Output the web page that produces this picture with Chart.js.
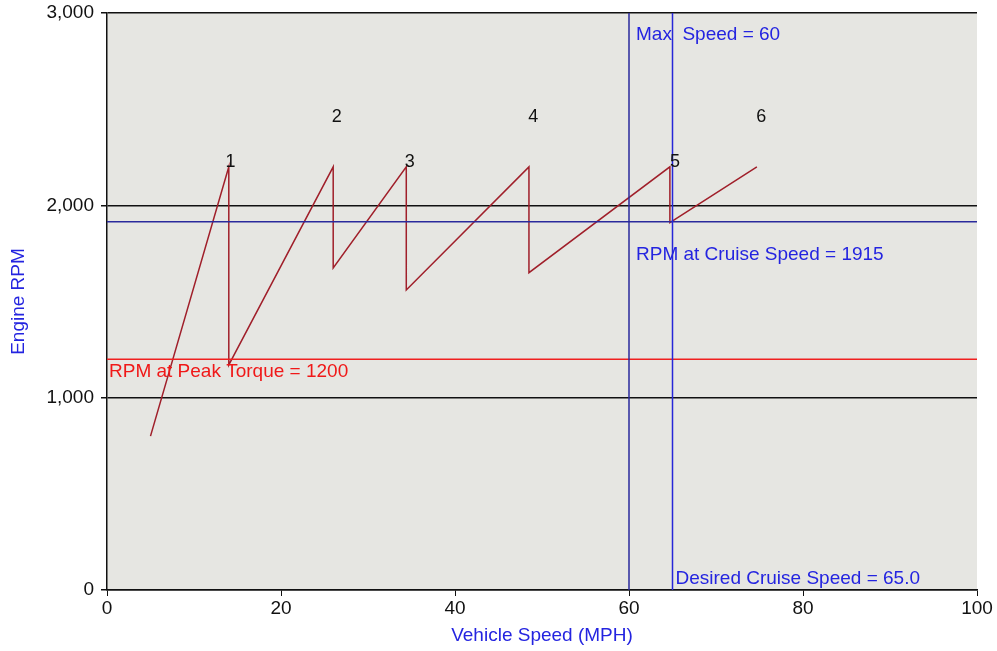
<!DOCTYPE html>
<html>
<head>
<meta charset="utf-8">
<script src="https://cdn.jsdelivr.net/npm/chart.js@4/dist/chart.umd.min.js"></script>
<style>
  html, body { margin: 0; padding: 0; background: #fff; }
  #wrap { width: 997px; height: 651px; }
</style>
</head>
<body>
<div id="wrap"><canvas id="rpmChart" width="997" height="651"></canvas></div>
<script>
// gear shift sawtooth (speed in MPH, engine RPM)
const shiftSpeed = [5, 14, 14, 26, 26, 34.4, 34.4, 48.5, 48.5, 64.7, 64.7, 74.7];
const shiftRpm = [800, 2200, 1170, 2200, 1675, 2200, 1560, 2200, 1650, 2200, 1910, 2200];

// gear number labels
const gearNames = ["1", "2", "3", "4", "5", "6"];
const gearLabelSpeed = [14.2, 26.4, 34.8, 49.0, 65.3, 75.2];
const gearLabelRpm = [2225, 2460, 2225, 2460, 2225, 2460];

// reference values
const maxSpeed = 60;
const cruiseSpeed = 65.0;
const cruiseRpm = 1915;
const peakTorqueRpm = 1200;

const yTicks = [0, 1000, 2000, 3000];

const FONT = "'Liberation Sans', Arial, sans-serif";
const ctx = document.getElementById("rpmChart");

const pts = (xs, ys) => xs.map((x, i) => ({ x: x, y: ys[i] }));

const bgPlugin = {
    id: "bg",
    beforeDraw(chart) {
        const a = chart.chartArea;
        const c = chart.ctx;
        c.save();
        c.fillStyle = "#e6e6e2";
        c.fillRect(a.left, a.top, a.right - a.left, a.bottom - a.top);
        c.restore();
    }
};

const labelPlugin = {
    id: "labels",
    afterDatasetsDraw(chart) {
        const c = chart.ctx;
        const xs = chart.scales.x;
        const ys = chart.scales.y;
        c.save();
        c.font = "18px " + FONT;
        c.fillStyle = "#111";
        c.textAlign = "center";
        c.textBaseline = "middle";
        gearNames.forEach((g, i) => {
            c.fillText(g, xs.getPixelForValue(gearLabelSpeed[i]), ys.getPixelForValue(gearLabelRpm[i]));
        });

        c.font = "19px " + FONT;
        c.textAlign = "left";
        c.textBaseline = "middle";
        c.fillStyle = "#2424e0";
        c.fillText("Max  Speed = " + maxSpeed, xs.getPixelForValue(maxSpeed) + 7, ys.getPixelForValue(2900) + 3);
        c.fillText("RPM at Cruise Speed = " + cruiseRpm, xs.getPixelForValue(maxSpeed) + 7, ys.getPixelForValue(cruiseRpm) + 33);
        c.fillText("Desired Cruise Speed = " + cruiseSpeed.toFixed(1), xs.getPixelForValue(cruiseSpeed) + 3, ys.getPixelForValue(0) - 11);
        c.fillStyle = "#f01818";
        c.fillText("RPM at Peak Torque = " + peakTorqueRpm, xs.getPixelForValue(0) + 2, ys.getPixelForValue(peakTorqueRpm) + 13);
        c.restore();
    }
};

new Chart(ctx, {
    type: "scatter",
    data: {
        datasets: [
            {
                label: "Max Speed",
                data: pts([maxSpeed, maxSpeed], [0, 3000]),
                showLine: true,
                borderColor: "#2a2a9c",
                borderWidth: 1.5,
                pointRadius: 0
            },
            {
                label: "Cruise Speed",
                data: pts([cruiseSpeed, cruiseSpeed], [0, 3000]),
                showLine: true,
                borderColor: "#2626d8",
                borderWidth: 1.5,
                pointRadius: 0
            },
            {
                label: "Cruise RPM",
                data: pts([0, 100], [cruiseRpm, cruiseRpm]),
                showLine: true,
                borderColor: "#2a2a9c",
                borderWidth: 1.5,
                pointRadius: 0
            },
            {
                label: "Peak Torque",
                data: pts([0, 100], [peakTorqueRpm, peakTorqueRpm]),
                showLine: true,
                borderColor: "#f02020",
                borderWidth: 1.5,
                pointRadius: 0
            },
            {
                label: "Engine RPM",
                data: pts(shiftSpeed, shiftRpm),
                showLine: true,
                borderColor: "#a01f2a",
                borderWidth: 1.5,
                pointRadius: 0,
                tension: 0
            }
        ]
    },
    options: {
        responsive: false,
        animation: false,
        layout: { padding: { left: 0, right: 20, top: 13, bottom: 0 } },
        plugins: {
            legend: { display: false },
            tooltip: { enabled: false }
        },
        scales: {
            x: {
                type: "linear",
                min: 0,
                max: 100,
                ticks: { stepSize: 20, color: "#111", font: { size: 19, family: FONT }, padding: 1 },
                grid: { drawOnChartArea: false, color: "#111", tickLength: 6 },
                border: { color: "#111", width: 1.5 },
                title: {
                    display: true,
                    text: "Vehicle Speed (MPH)",
                    color: "#2424e0",
                    font: { size: 19, family: FONT },
                    padding: { top: 2, bottom: 4 }
                },
                afterFit: (s) => { s.height = 61; }
            },
            y: {
                type: "linear",
                min: 0,
                max: 3000,
                afterBuildTicks: (s) => { s.ticks = yTicks.map(v => ({ value: v })); },
                ticks: {
                    color: "#111",
                    font: { size: 19, family: FONT },
                    padding: 7,
                    callback: (v) => v.toLocaleString("en-US")
                },
                grid: { color: "#111", lineWidth: 1.5, tickLength: 6 },
                border: { color: "#111", width: 1.5 },
                title: {
                    display: true,
                    text: "Engine RPM",
                    color: "#2424e0",
                    font: { size: 19, family: FONT },
                    padding: { top: 7, bottom: 0 }
                },
                afterFit: (s) => {
                    s.width = 107;
                    s.paddingTop = 0;
                    s.paddingBottom = 0;
                }
            }
        }
    },
    plugins: [bgPlugin, labelPlugin]
});
</script>
</body>
</html>
